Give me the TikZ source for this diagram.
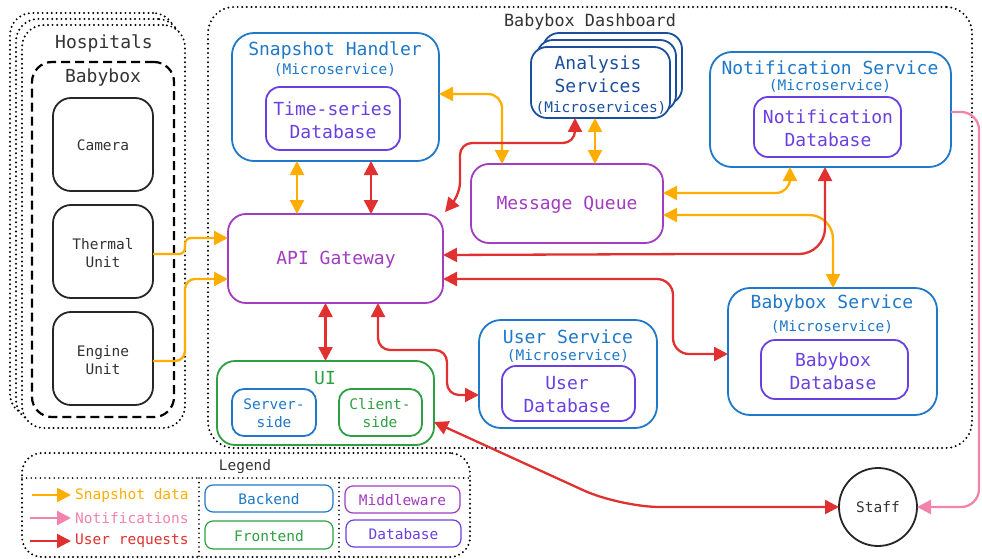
\documentclass[tikz,border=0pt]{standalone}
\usepackage{fontspec}
\setmainfont{DejaVu Sans Mono}
\setmonofont{DejaVu Sans Mono}
\usetikzlibrary{arrows.meta,calc}
\definecolor{corange}{HTML}{FFAE00}
\definecolor{cred}{HTML}{E0302F}
\definecolor{cpink}{HTML}{F283AA}
\definecolor{cblue}{HTML}{1F78C8}
\definecolor{cdblue}{HTML}{1B4F9E}
\definecolor{cpurple}{HTML}{A23CC0}
\definecolor{cviolet}{HTML}{6A40E0}
\definecolor{cgreen}{HTML}{2EA043}
\definecolor{cgray}{HTML}{333333}
\newcommand\fbig{\fontsize{18}{23}\selectfont}
\newcommand\fmid{\fontsize{16.8}{20}\selectfont}
\newcommand\fsm{\fontsize{14.5}{18.5}\selectfont}
\begin{document}
\begin{tikzpicture}[x=1pt,y=-1pt,
  box/.style={rounded corners=18pt, line width=1.8pt, inner sep=0pt, outer sep=0pt, fill=white},
  sz/.style n args={2}{minimum width=#1pt, minimum height=#2pt},
  dotline/.style={line width=2.2pt, dash pattern=on 0pt off 4.6pt, line cap=round},
  txt/.style={inner sep=0pt, align=center},
  conn/.style={line width=2.3pt},
  bi/.style={conn, {Triangle[length=14pt,width=14pt]}-{Triangle[length=14pt,width=14pt]}},
  uni/.style={conn, -{Triangle[length=14pt,width=14pt]}},
]
\useasboundingbox (0,0) rectangle (982,559);

% ---------- Hospitals stack ----------
\node[box, dotline, draw=black, sz={165}{403}, rounded corners=22pt] (hosp3) at (92.5,214.5) {};
\node[box, dotline, draw=black, sz={164}{403}, rounded corners=22pt] (hosp2) at (98,220.5) {};
\node[box, dotline, draw=black, sz={163}{403}, rounded corners=22pt] (hosp) at (103.5,226.5) {};
\node[txt, text=cgray, font=\fbig] (hospT) at (104,43) {Hospitals};
\node[box, draw=black, line width=2.2pt, dash pattern=on 9pt off 5pt, sz={142}{355}, rounded corners=20pt] (bbx) at (103,239.5) {};
\node[txt, text=cgray, font=\fbig] (bbxT) at (103,78) {Babybox};
\node[box, draw=black!85, sz={100}{93}] (cam) at (103,144.5) {};
\node[txt, text=cgray, font=\fsm] (camT) at (103,145) {Camera};
\node[box, draw=black!85, sz={100}{93}] (therm) at (103,251.5) {};
\node[txt, text=cgray, font=\fsm] (thermT) at (103,253) {Thermal\\Unit};
\node[box, draw=black!85, sz={100}{93}] (eng) at (103,358.5) {};
\node[txt, text=cgray, font=\fsm] (engT) at (103,360) {Engine\\Unit};

% ---------- Dashboard ----------
\node[box, dotline, draw=black, fill=none, sz={764}{441}, rounded corners=26pt] (dash) at (590,227.5) {};
\node[txt, text=cgray, font=\fmid] (dashT) at (590,22) {Babybox Dashboard};

\node[box, draw=cblue, sz={207}{128}, rounded corners=22pt] (snap) at (335.5,97) {};
\node[txt, text=cblue, font=\fbig] (snapT) at (335,50) {Snapshot Handler};
\node[txt, text=cblue, font=\fsm] (snapM) at (335,70) {(Microservice)};
\node[box, draw=cviolet, sz={134}{63}, rounded corners=14pt] (tsdb) at (333,118.5) {};
\node[txt, text=cviolet, font=\fbig] (tsdbT) at (333,120) {Time-series\\Database};

\node[box, draw=cdblue, sz={139}{71}, rounded corners=16pt] (ana3) at (612.5,68.5) {};
\node[box, draw=cdblue, sz={139}{71}, rounded corners=16pt] (ana2) at (606.5,75.5) {};
\node[box, draw=cdblue, sz={139}{71}, rounded corners=16pt] (ana) at (600.5,82.5) {};
\node[txt, text=cdblue, font=\fbig] (anaT) at (598,74) {Analysis\\Services};
\node[txt, text=cdblue, font=\fsm] (anaM) at (601,108) {(Microservices)};

\node[box, draw=cpurple, sz={192}{79}] (mq) at (567,203.5) {};
\node[txt, text=cpurple, font=\fbig] (mqT) at (567,205) {Message Queue};

\node[box, draw=cpurple, sz={215}{89}] (api) at (335.5,258.5) {};
\node[txt, text=cpurple, font=\fbig] (apiT) at (336,260) {API Gateway};

\node[box, draw=cblue, sz={241}{115}, rounded corners=22pt] (notif) at (830.5,109.5) {};
\node[txt, text=cblue, font=\fbig] (notifT) at (830,68) {Notification Service};
\node[txt, text=cblue, font=\fsm] (notifM) at (830,86) {(Microservice)};
\node[box, draw=cviolet, sz={147}{60}, rounded corners=14pt] (ndb) at (827.5,127) {};
\node[txt, text=cviolet, font=\fbig] (ndbT) at (828,128) {Notification\\Database};

\node[box, draw=cblue, sz={209}{127}, rounded corners=22pt] (bbs) at (832.5,351.5) {};
\node[txt, text=cblue, font=\fbig] (bbsT) at (832,304) {Babybox Service};
\node[txt, text=cblue, font=\fsm] (bbsM) at (832,327) {(Microservice)};
\node[box, draw=cviolet, sz={147}{59}, rounded corners=14pt] (bdb) at (834.5,369.5) {};
\node[txt, text=cviolet, font=\fbig] (bdbT) at (833,371) {Babybox\\Database};

\node[box, draw=cblue, sz={178}{108}, rounded corners=22pt] (us) at (568,374) {};
\node[txt, text=cblue, font=\fbig] (usT) at (568,337) {User Service};
\node[txt, text=cblue, font=\fsm] (usM) at (568,356) {(Microservice)};
\node[box, draw=cviolet, sz={133}{55}, rounded corners=14pt] (udb) at (568.5,393.5) {};
\node[txt, text=cviolet, font=\fbig] (udbT) at (567,395) {User\\Database};

\node[box, draw=cgreen, sz={217}{84}] (ui) at (325.5,403) {};
\node[txt, text=cgreen, font=\fbig] (uiT) at (325,378) {UI};
\node[box, draw=cblue, sz={84}{47}, rounded corners=12pt] (srv) at (274,412.5) {};
\node[txt, text=cblue, font=\fsm] (srvT) at (274,413) {Server-\\side};
\node[box, draw=cgreen, sz={83}{47}, rounded corners=12pt] (cli) at (380.5,412.5) {};
\node[txt, text=cgreen, font=\fsm] (cliT) at (380,413) {Client-\\side};

\node[circle, draw=black!85, line width=1.8pt, minimum size=78pt, inner sep=0pt, outer sep=0pt, fill=white] (staff) at (878,507) {};
\node[txt, text=cgray, font=\fsm] (staffT) at (878,507) {Staff};

% ---------- Connectors ----------
\draw[uni, corange] ([yshift=-2.5pt]therm.east) [rounded corners=6pt] -- ++(32,0) |- ([yshift=20.5pt]api.west);
\draw[uni, corange] ([yshift=-2.5pt]eng.east) [rounded corners=10pt] -- ++(32,0) |- ([yshift=-20.5pt]api.west);
\draw[bi, corange] ([xshift=-38.5pt]snap.south) -- ([xshift=-38.5pt]api.north);
\draw[bi, cred] ([xshift=35.5pt]snap.south) -- ([xshift=35.5pt]api.north);
\draw[bi, corange] ([yshift=3pt]snap.east) [rounded corners=14pt] -| ([xshift=-65pt]mq.north);
\draw[bi, corange] ([xshift=-5.5pt]ana.south) -- ([xshift=28pt]mq.north);
\draw[bi, cred] ([shift={(2pt,2pt)}]api.north east) [rounded corners=12pt] -- (460,194) -- (460,143) -- (575,143) -- ([xshift=-25.5pt]ana.south);
\draw[bi, corange] ([yshift=10.5pt]mq.east) [rounded corners=14pt] -| ([xshift=-40.5pt]notif.south);
\draw[bi, corange] ([yshift=-11.5pt]mq.east) [rounded corners=24pt] -| ([xshift=0.5pt]bbs.north);
\draw[bi, cred] ([yshift=3.5pt]api.east) [rounded corners=26pt] -- (700,254) -| ([xshift=-5.5pt]notif.south);
\draw[bi, cred] ([yshift=-20.5pt]api.east) [rounded corners=16pt] -| (673,354) -- ([yshift=-2.5pt]bbs.west);
\draw[bi, cred] (ui.north |- api.south) -- (ui.north);
\draw[bi, cred] ([xshift=42.5pt]api.south) [rounded corners=12pt] -- (378,350) -| (447,395) -- ([yshift=-21pt]us.west);
\draw[bi, cred] ([yshift=-19pt]ui.east) [rounded corners=40pt] -- (620,507) -- (staff.west);
\draw[uni, cpink] ([yshift=-2.5pt]notif.east) [rounded corners=18pt] -| (979,507) -- (staff.east);

% ---------- Legend ----------
\node[box, dotline, draw=black, fill=none, sz={448}{104}, rounded corners=20pt] (leg) at (246,505) {};
\node[txt, text=cgray, font=\fsm] (legT) at (245,467) {Legend};
\coordinate (lh1) at (22,478);
\coordinate (lh2) at (470,478);
\coordinate (lv1a) at (199,478);
\coordinate (lv1b) at (199,557);
\coordinate (lv2a) at (339,478);
\coordinate (lv2b) at (339,557);
\draw[dotline, line width=1.8pt] (lh1) -- (lh2);
\draw[dotline, line width=1.8pt] (lv1a) -- (lv1b);
\draw[dotline, line width=1.8pt] (lv2a) -- (lv2b);

\coordinate (la1) at (32,495); \coordinate (lb1) at (71,495);
\coordinate (la2) at (30,518); \coordinate (lb2) at (71,518);
\coordinate (la3) at (30,541); \coordinate (lb3) at (71,541);
\draw[uni, corange] (la1) -- (lb1);
\draw[uni, cpink] (la2) -- (lb2);
\draw[uni, cred] (la3) -- (lb3);
\node[txt, text=corange, font=\fsm, anchor=west] (l1) at (75,495) {Snapshot data};
\node[txt, text=cpink, font=\fsm, anchor=west] (l2) at (75,518) {Notifications};
\node[txt, text=cred, font=\fsm, anchor=west] (l3) at (75,541) {User requests};

\node[box, draw=cblue, line width=1.2pt, sz={128}{27}, rounded corners=8pt] (lbe) at (269,498.5) {};
\node[txt, text=cblue, font=\fsm] (lbeT) at (269,499) {Backend};
\node[box, draw=cgreen, line width=1.2pt, sz={128}{28}, rounded corners=8pt] (lfe) at (269,535) {};
\node[txt, text=cgreen, font=\fsm] (lfeT) at (269,536) {Frontend};
\node[box, draw=cpurple, line width=1.2pt, sz={115}{27}, rounded corners=8pt] (lmw) at (402.5,499.5) {};
\node[txt, text=cpurple, font=\fsm] (lmwT) at (402.5,500) {Middleware};
\node[box, draw=cviolet, line width=1.2pt, sz={115}{27}, rounded corners=8pt] (ldb) at (403.5,533.5) {};
\node[txt, text=cviolet, font=\fsm] (ldbT) at (403.5,534) {Database};
\end{tikzpicture}
\end{document}
